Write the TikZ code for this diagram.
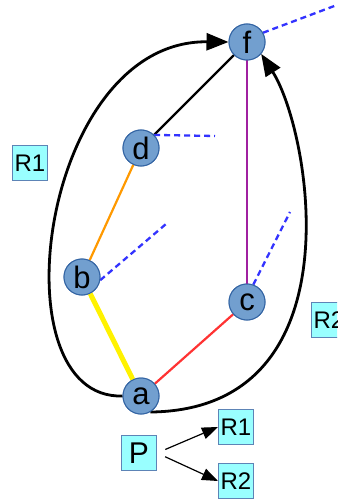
\documentclass[tikz,border=0pt]{standalone}
\usepackage{fontspec}
\setmainfont{Liberation Sans}
\usetikzlibrary{arrows.meta}
\definecolor{cfill}{HTML}{729FCF}
\definecolor{cline}{HTML}{3465A4}
\definecolor{bfill}{HTML}{99FFFF}
\definecolor{dblue}{HTML}{3333FF}
\definecolor{eorange}{HTML}{FF9900}
\definecolor{ered}{HTML}{FF3333}
\definecolor{epurple}{HTML}{A020A0}
\begin{document}
\begin{tikzpicture}[x=1pt,y=-1pt,
  vert/.style={circle,fill=cfill,draw=cline,line width=1pt,minimum size=36pt,inner sep=0pt,font=\fontsize{31}{31}\selectfont},
  lbox/.style={rectangle,fill=bfill,draw=cline!80,line width=1pt,minimum size=35pt,inner sep=0pt,font=\fontsize{24}{24}\selectfont},
  pbox/.style={lbox,font=\fontsize{30}{30}\selectfont},
  dline/.style={dblue,line width=2.3pt,dash pattern=on 6pt off 4pt},
  bigcurve/.style={black,line width=2.8pt,-{Triangle[length=22pt,width=17pt]}},
  thinarrow/.style={black,line width=1.2pt,-{Triangle[length=16pt,width=12pt]}}]
\path[use as bounding box,clip] (0,0) rectangle (337,500);
% vertices
\node[vert] (f) at (247,42) {f};
\node[vert] (d) at (141,148) {d};
\node[vert] (b) at (82,277) {b};
\node[vert] (c) at (247,302) {c};
\node[vert] (a) at (141,396) {a};
% labels
\node[lbox] (r1l) at (30,163) {R1};
\node[lbox,anchor=west] (r2l) at (311,320) {R2};
\node[pbox] (p) at (139,453) {P};
\node[lbox] (r1) at (236,427) {R1};
\node[lbox] (r2) at (236,481) {R2};
% dashed free ends
\coordinate (fe) at (337,5);
\coordinate (de) at (215,136);
\coordinate (be) at (166,224);
\coordinate (ce) at (290,212);
% edges
\draw[yellow,line width=5pt] (a) -- (b);
\draw[eorange,line width=2.2pt] (b) -- (d);
\draw[black,line width=2.2pt] (d) -- (f);
\draw[epurple,line width=2.2pt] (f) -- (c);
\draw[ered,line width=2.2pt] (c) -- (a);
\draw[dline] (f.30) -- (fe);
\draw[dline] (d.45) -- (de);
\draw[dline] (b.-10) -- (be);
\draw[dline] (c.70) -- (ce);
% big curves
\draw[bigcurve] (a.west) .. controls (-5,400) and (40,40) .. (f.west);
\draw[bigcurve] (a.-60) .. controls (360,410) and (310,130) .. (f.-40);
% P arrows
\draw[thinarrow,shorten <=9pt] (p.east) -- (r1.west);
\draw[thinarrow,shorten <=9pt] (p.east) -- (r2.west);
% redraw vertices on top
\node[vert] at (f) {f};
\node[vert] at (d) {d};
\node[vert] at (b) {b};
\node[vert] at (c) {c};
\node[vert] at (a) {a};
\end{tikzpicture}
\end{document}
